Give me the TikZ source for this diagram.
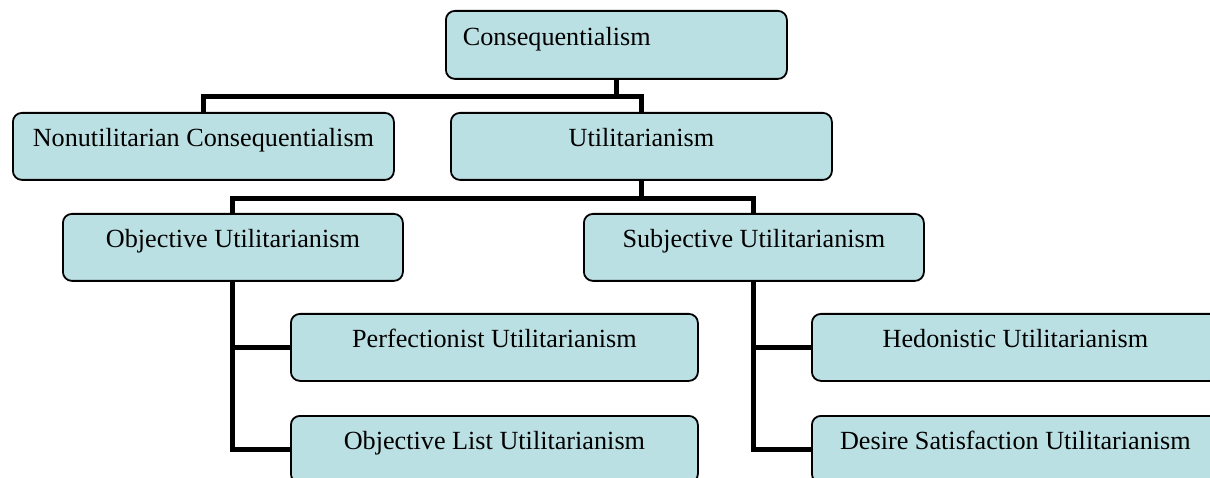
\documentclass[tikz,border=0pt]{standalone}
\usepackage{fontspec}
\setmainfont{Liberation Serif}
\usetikzlibrary{backgrounds}
\definecolor{boxfill}{RGB}{187,224,227}
\begin{document}
\begin{tikzpicture}[x=1pt,y=-1pt,
  box/.style={draw=black, line width=1.8pt, fill=boxfill, rounded corners=9pt,
    inner xsep=0pt, inner ysep=0pt, text height=34pt, text depth=33pt,
    font=\fontsize{26.2}{30}\selectfont, anchor=north west},
  link/.style={draw=black, line width=5pt, line join=miter}]
\useasboundingbox (0,0) rectangle (1210,478);
\clip (0,0) rectangle (1210,478);
\node[box, minimum width=341pt, text width=307pt, align=left, inner xsep=17pt, text height=35pt] (conseq) at (445,10) {Consequentialism};
\node[box, minimum width=381pt] (nonutil) at (12,112) {Nonutilitarian Consequentialism};
\node[box, minimum width=381pt] (util) at (450,112) {Utilitarianism};
\node[box, minimum width=340pt] (obj) at (62,213) {Objective Utilitarianism};
\node[box, minimum width=340pt] (subj) at (583,213) {Subjective Utilitarianism};
\node[box, minimum width=407pt] (perf) at (290,313) {Perfectionist Utilitarianism};
\node[box, minimum width=407pt] (olist) at (290,415) {Objective List Utilitarianism};
\node[box, minimum width=407pt] (hedon) at (811,313) {Hedonistic Utilitarianism};
\node[box, minimum width=407pt] (desire) at (811,415) {Desire Satisfaction Utilitarianism};
\begin{scope}[on background layer]
  \path[link] (conseq.south) -- ++(0,17) coordinate (j1);
  \path[link] (j1) -| (nonutil.north);
  \path[link] (j1) -| (util.north);
  \path[link] (util.south) -- ++(0,18) coordinate (j2);
  \path[link] (j2) -| (obj.north);
  \path[link] (j2) -| (subj.north);
  \path[link] (obj.south) |- (perf.west);
  \path[link] (obj.south) |- (olist.west);
  \path[link] (subj.south) |- (hedon.west);
  \path[link] (subj.south) |- (desire.west);
\end{scope}
\end{tikzpicture}
\end{document}
